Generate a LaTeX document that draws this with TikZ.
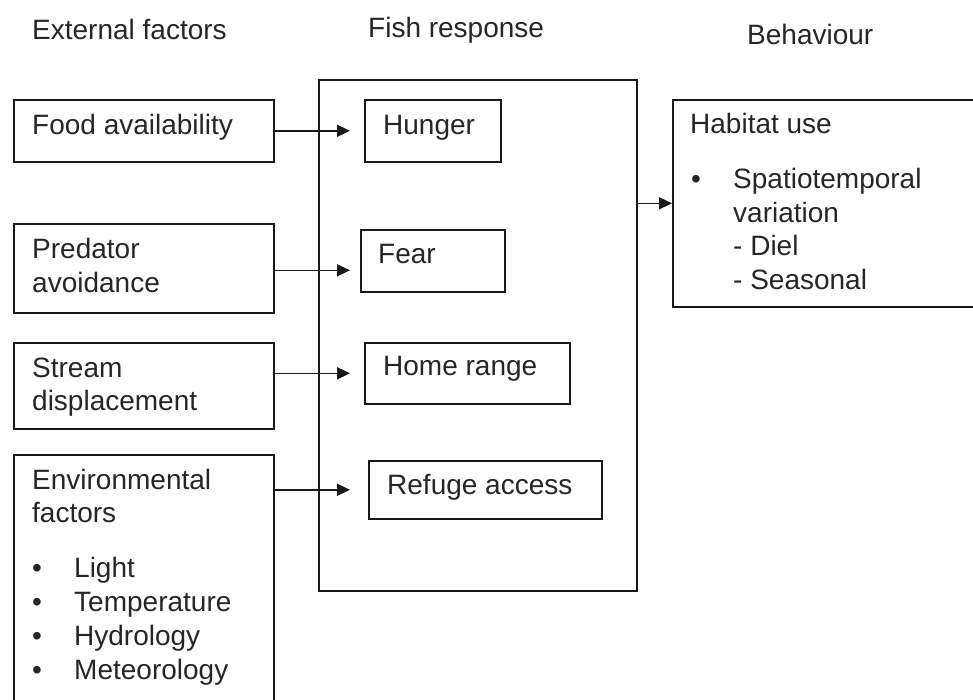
\documentclass[tikz,border=0pt]{standalone}
\usepackage{fontspec}
\setmainfont{Liberation Sans}
\usetikzlibrary{arrows.meta}
\begin{document}
\begin{tikzpicture}[x=1pt,y=-1pt,
  box/.style={draw=black!90, line width=1.6pt, rectangle, anchor=north west, inner sep=0pt},
  txt/.style={anchor=base west, inner sep=0pt, font=\fontsize{28}{34}\selectfont, text=black!85},
  arr/.style={draw=black!90, line width=1.6pt, -{Triangle[length=13pt,width=12pt]}}]
\useasboundingbox (0,0) rectangle (973,699);
% headers
\node[txt] (h1) at (32,39) {External factors};
\node[txt] (h2) at (368,37) {Fish response};
\node[txt] (h3) at (747,44) {Behaviour};
% left column
\node[box, minimum width=260pt, minimum height=62pt] (food) at (13,99) {};
\node[txt] (tfood) at (32,134) {Food availability};
\node[box, minimum width=260pt, minimum height=89pt] (pred) at (13,223) {};
\node[txt] (tpred1) at (32,258) {Predator};
\node[txt] (tpred2) at (32,292) {avoidance};
\node[box, minimum width=260pt, minimum height=86pt] (stream) at (13,342) {};
\node[txt] (tstr1) at (32,377) {Stream};
\node[txt] (tstr2) at (32,410) {displacement};
\node[box, minimum width=260pt, minimum height=250pt] (env) at (13,454) {};
\node[txt] (tenv1) at (32,489) {Environmental};
\node[txt] (tenv2) at (32,522) {factors};
\node[txt] (b1) at (32,577) {•};
\node[txt] (l1) at (74,577) {Light};
\node[txt] (b2) at (32,611) {•};
\node[txt] (l2) at (74,611) {Temperature};
\node[txt] (b3) at (32,645) {•};
\node[txt] (l3) at (74,645) {Hydrology};
\node[txt] (b4) at (32,679) {•};
\node[txt] (l4) at (74,679) {Meteorology};
% middle column
\node[box, minimum width=318pt, minimum height=511pt] (fish) at (318,79) {};
\node[box, minimum width=136pt, minimum height=62pt] (hunger) at (364,99) {};
\node[txt] (thun) at (383,134) {Hunger};
\node[box, minimum width=144pt, minimum height=62pt] (fear) at (360,229) {};
\node[txt] (tfear) at (378,263) {Fear};
\node[box, minimum width=205pt, minimum height=61pt] (home) at (364,342) {};
\node[txt] (thome) at (383,375) {Home range};
\node[box, minimum width=233pt, minimum height=58pt] (refuge) at (368,460) {};
\node[txt] (tref) at (387,494) {Refuge access};
% right column
\node[box, minimum width=306pt, minimum height=207pt] (hab) at (672,99) {};
\node[txt] (thab) at (690,133) {Habitat use};
\node[txt] (hb) at (691,188) {•};
\node[txt] (th1) at (733,188) {Spatiotemporal};
\node[txt] (th2) at (733,222) {variation};
\node[txt] (th3) at (733,255) {- Diel};
\node[txt] (th4) at (733,289) {- Seasonal};
% connectors
\draw[arr, shorten >=14pt] (food.east) -- (food.east -| hunger.west);
\draw[arr, shorten >=10pt] ([yshift=-2pt]pred.east) -- ([yshift=-2pt]pred.east -| fear.west);
\draw[arr, shorten >=14pt] (stream.east |- home.west) -- (home.west);
\draw[arr, shorten >=18pt] (env.east |- refuge.west) -- (refuge.west);
\draw[arr] (fish.east |- hab.west) -- (hab.west);
\end{tikzpicture}
\end{document}
